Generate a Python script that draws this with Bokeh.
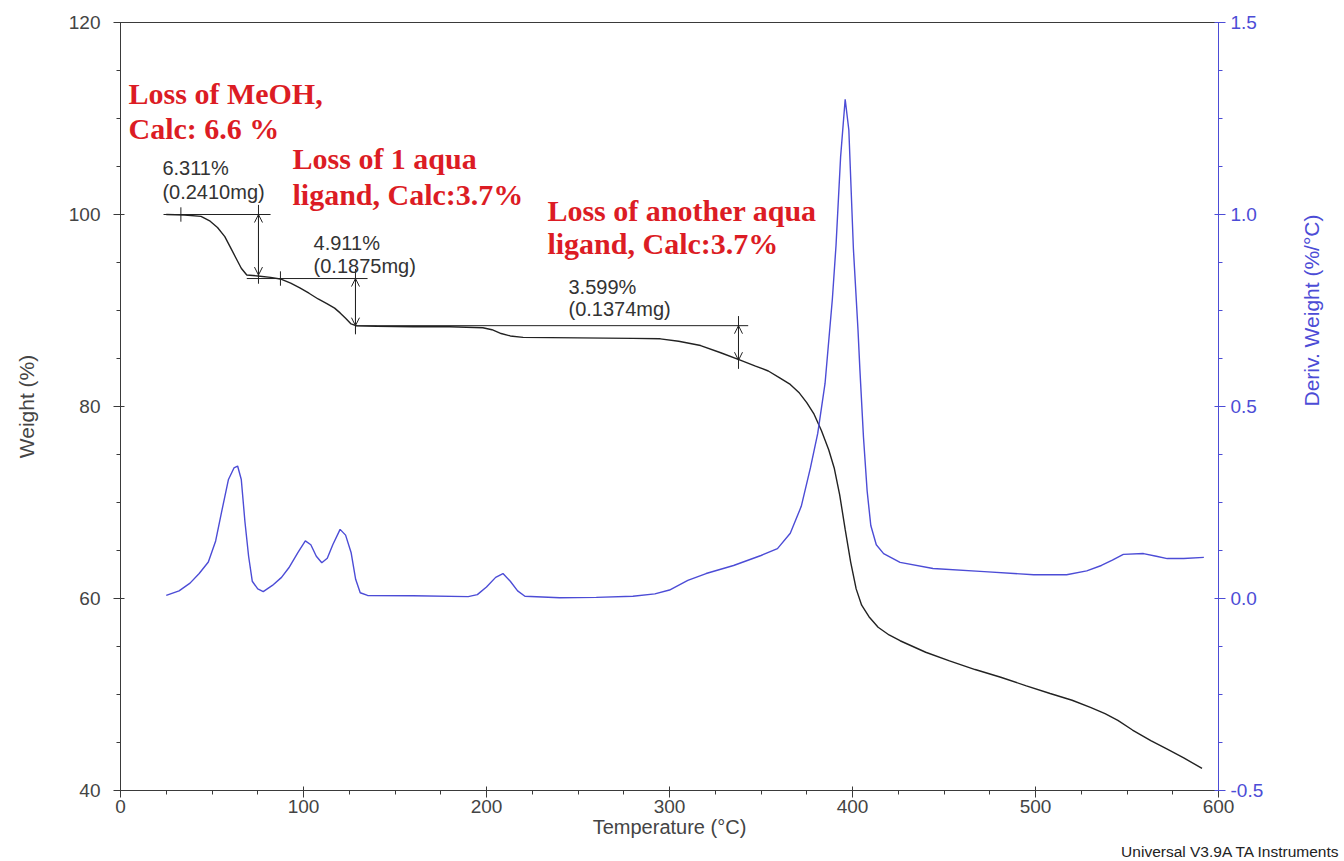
import math
from bokeh.plotting import figure
from bokeh.models import (Range1d, LinearAxis, FixedTicker, Label, Arrow,
                          OpenHead, PrintfTickFormatter, Title)
from bokeh.embed import file_html
from bokeh.resources import INLINE

# ---- TGA weight curve (Temperature °C, Weight %) ----
temp_w = [25, 35, 44, 49, 53, 57, 60, 63, 66, 69, 75, 82, 88, 93, 98, 103, 108,
          113, 117, 120, 123, 126, 129, 140, 160, 180, 198, 203, 208, 213, 220,
          250, 280, 295, 305, 317, 328, 339, 347, 354, 360, 366, 371, 375, 379,
          383, 387, 390, 393, 396, 399, 402, 405, 409, 414, 420, 426, 440, 453,
          467, 481, 495, 508, 520, 530, 538, 545, 553, 563, 572, 581, 591]
weight = [100.0, 99.95, 99.8, 99.3, 98.65, 97.7, 96.6, 95.5, 94.4, 93.7, 93.6,
          93.45, 93.25, 92.85, 92.35, 91.8, 91.2, 90.7, 90.25, 89.75, 89.2, 88.6,
          88.4, 88.35, 88.3, 88.3, 88.2, 88.0, 87.6, 87.35, 87.2, 87.15, 87.1,
          87.05, 86.8, 86.35, 85.6, 84.8, 84.2, 83.7, 83.0, 82.3, 81.4, 80.4,
          79.2, 77.5, 75.5, 73.6, 70.8, 67.2, 63.8, 61.0, 59.3, 58.1, 57.0, 56.2,
          55.6, 54.4, 53.5, 52.6, 51.8, 50.9, 50.1, 49.4, 48.65, 48.0, 47.3, 46.3,
          45.2, 44.3, 43.4, 42.3]

# ---- DTG derivative curve (Temperature °C, %/°C) ----
temp_d = [25, 32, 38, 43, 48, 52, 55, 59, 62, 64, 66, 68, 70, 72, 75, 78, 83,
          88, 92, 97, 101, 104, 107, 110, 113, 116, 120, 123, 126, 128.5, 131,
          135, 160, 190, 195, 200, 205, 209, 213, 217, 221, 240, 260, 280, 292,
          300, 310, 320, 335, 350, 359, 366, 372, 377, 381, 385, 389, 391, 393.5,
          396, 398, 400.5, 403, 404, 406, 408, 410, 413, 417, 426, 444, 472, 499,
          517, 528, 536, 542, 548, 559, 566, 572, 581, 592]
deriv = [0.008, 0.02, 0.04, 0.065, 0.095, 0.15, 0.22, 0.31, 0.34, 0.345, 0.31,
         0.2, 0.11, 0.045, 0.025, 0.018, 0.034, 0.055, 0.08, 0.12, 0.15, 0.14,
         0.11, 0.093, 0.105, 0.14, 0.18, 0.165, 0.12, 0.05, 0.015, 0.008, 0.007,
         0.005, 0.01, 0.03, 0.055, 0.065, 0.045, 0.02, 0.006, 0.002, 0.003,
         0.006, 0.012, 0.022, 0.047, 0.065, 0.086, 0.112, 0.13, 0.17, 0.24, 0.34,
         0.43, 0.56, 0.78, 0.92, 1.15, 1.30, 1.22, 0.91, 0.70, 0.60, 0.42, 0.28,
         0.19, 0.14, 0.117, 0.094, 0.078, 0.07, 0.062, 0.062, 0.072, 0.086, 0.1,
         0.115, 0.117, 0.11, 0.104, 0.104, 0.107]

# ---- step analysis results ----
step_level = [100.0, 93.33, 88.42]          # weight at start of each step (%)
step_pct = [6.311, 4.911, 3.599]             # measured loss (%)
step_mg = [0.2410, 0.1875, 0.1374]           # measured loss (mg)
step_cursor = [75.4, 128.4, 337.7]           # temperature of arrow cursor
step_start = [33.0, 87.4, 128.4]             # temperature of start cursor
step_line = [(23.5, 82.0), (69.0, 135.0), (128.4, 343.0)]

x_ticks = [0, 100, 200, 300, 400, 500, 600]
w_ticks = [40, 60, 80, 100, 120]
d_ticks = [-0.5, 0.0, 0.5, 1.0, 1.5]

BLACK = "#222222"
AXIS = "#3a3a3a"
BLUE = "#4c4cd6"
RED = "#dc1c24"
SANS = "Liberation Sans"
SERIF = "Liberation Serif"

p = figure(width=1344, height=861, x_range=Range1d(0, 600), y_range=Range1d(40, 120),
           output_backend="svg", toolbar_location=None,
           min_border_left=120, min_border_right=126, min_border_top=22,
           min_border_bottom=71)
p.grid.visible = False
p.outline_line_color = AXIS
p.background_fill_color = "white"
p.border_fill_color = "white"

p.extra_y_ranges = {"deriv": Range1d(-0.5, 1.5)}

# weight and derivative traces
p.line(temp_w, weight, line_color=BLACK, line_width=1.4)
p.line(temp_d, deriv, line_color=BLUE, line_width=1.4, y_range_name="deriv")

# axes
xa = p.xaxis[0]
xa.ticker = FixedTicker(ticks=x_ticks, minor_ticks=list(range(0, 601, 25)))
xa.axis_label = "Temperature (°C)"
ya = p.yaxis[0]
ya.ticker = FixedTicker(ticks=w_ticks, minor_ticks=list(range(40, 121, 5)))
ya.axis_label = "Weight (%)"

ra = LinearAxis(y_range_name="deriv",
                ticker=FixedTicker(ticks=d_ticks,
                                   minor_ticks=[-0.5 + 0.125 * i for i in range(17)]),
                formatter=PrintfTickFormatter(format="%.1f"),
                axis_label="Deriv. Weight (%/°C)")
p.add_layout(ra, "right")

for ax in (xa, ya):
    ax.axis_line_color = AXIS
    ax.major_tick_line_color = AXIS
    ax.minor_tick_line_color = AXIS
    ax.major_label_text_color = "#444444"
    ax.axis_label_text_color = "#444444"
for ax in (xa, ya, ra):
    ax.major_label_text_font = SANS
    ax.major_label_text_font_size = "19px"
    ax.axis_label_text_font = SANS
    ax.axis_label_text_font_size = "20px"
    ax.axis_label_text_font_style = "normal"
    ax.major_tick_in = 4
    ax.major_tick_out = 7
    ax.minor_tick_in = 0
    ax.minor_tick_out = 4
xa.major_label_standoff = 2
xa.axis_label_standoff = 0
ya.major_label_standoff = 13
ya.axis_label_standoff = 28
ya.axis_label_text_font_size = "21px"
ra.axis_line_color = BLUE
ra.major_tick_line_color = BLUE
ra.minor_tick_line_color = BLUE
ra.major_label_text_color = BLUE
ra.axis_label_text_color = BLUE
ra.major_label_standoff = 5
ra.axis_label_standoff = 45
ra.axis_label_text_font_size = "21px"
ra.axis_label_orientation = math.pi / 2   # read upward, like the left title

# instrument software credit in the bottom-right corner
p.add_layout(Title(text="Universal V3.9A TA Instruments", align="right",
                   text_font=SANS, text_font_size="15.5px", text_font_style="normal",
                   text_color="#222222", offset=-122, standoff=0), "below")

# step analysis cursors and arrows
head = dict(size=8, line_color=BLACK, line_width=1)
for i in range(3):
    lvl = step_level[i]
    end = lvl - step_pct[i]
    x0, x1 = step_line[i]
    p.line([x0, x1], [lvl, lvl], line_color=BLACK, line_width=1)
    p.line([step_start[i], step_start[i]], [lvl - 0.75, lvl + 0.75],
           line_color=BLACK, line_width=1)
    p.line([step_cursor[i], step_cursor[i]], [end - 0.9, lvl + 1.0],
           line_color=BLACK, line_width=1)
    p.add_layout(Arrow(x_start=step_cursor[i], y_start=lvl, x_end=step_cursor[i],
                       y_end=end, start=OpenHead(**head), end=OpenHead(**head),
                       line_color=BLACK, line_width=1))

# step loss readouts
readout_pos = [(22.9, 104.8, 102.3), (105.5, 97.0, 94.6), (244.8, 92.4, 90.2)]
for i, (tx, y1, y2) in enumerate(readout_pos):
    for txt, yy in ((f"{step_pct[i]:.3f}%", y1), (f"({step_mg[i]:.4f}mg)", y2)):
        p.add_layout(Label(x=tx, y=yy, text=txt, text_font=SANS,
                           text_font_size="20px", text_color="#333333",
                           text_baseline="alphabetic"))

# assignment notes
notes = [
    (4.4, 112.6, "Loss of MeOH,"),
    (4.4, 108.95, "Calc: 6.6 %"),
    (94.0, 105.8, "Loss of 1 aqua"),
    (94.0, 102.1, "ligand, Calc:3.7%"),
    (233.3, 100.4, "Loss of another aqua"),
    (233.3, 97.0, "ligand, Calc:3.7%"),
]
for nx, ny, txt in notes:
    p.add_layout(Label(x=nx, y=ny, text=txt, text_font=SERIF, text_font_style="bold",
                       text_font_size="30px", text_color=RED,
                       text_baseline="alphabetic"))

open("out.html", "w").write(file_html(p, INLINE))
